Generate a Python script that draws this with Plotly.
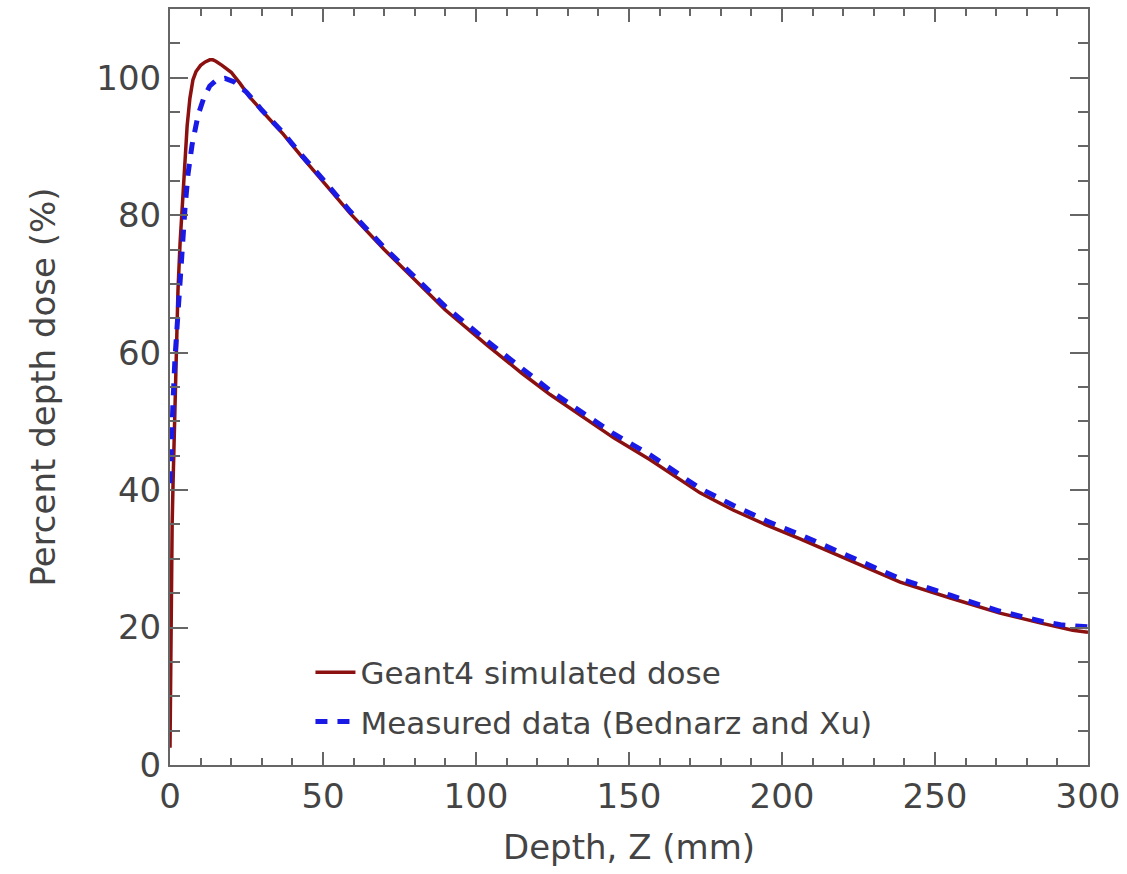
import plotly.graph_objects as go

# Geant4 simulated dose (red solid)
sim_depth = [0, 0.3, 0.7, 1.0, 1.3, 1.6, 2.0, 2.6, 3.3, 4.2, 5.0, 5.6, 6.5, 7.5, 8.5, 10, 11.5, 13, 14, 15,
             17, 20, 23, 26, 30, 37, 42.5, 50, 58.8, 70, 83.3, 90, 103.6, 107.8, 115, 124.2, 135, 145, 156.9,
             173.2, 184, 195, 205.9, 220, 238.6, 255, 271.2, 285, 295, 300]
sim_dose = [2.5, 20, 35, 41, 46, 54, 61, 69, 76, 83, 89, 93, 97, 99.7, 100.9, 101.8, 102.3, 102.6, 102.6, 102.4,
            101.8, 100.8, 99.1, 97.2, 95.2, 91.8, 88.8, 84.9, 80.3, 75.0, 69.1, 66.2, 61.1, 59.6, 57.0, 53.9, 50.6, 47.6, 44.4,
            39.6, 37.1, 34.9, 32.9, 30.2, 26.6, 24.3, 22.1, 20.6, 19.6, 19.3]

# Measured data (Bednarz and Xu) (blue dashed)
meas_depth = [0, 0.3, 1.0, 1.6, 2.3, 3.3, 4.2, 4.9, 5.9, 7.2, 9.2, 11, 13, 15, 18, 21, 25, 30, 37, 42.5,
              50, 58.8, 70, 83.3, 90, 103.6, 110, 124.2, 135, 145, 157, 173, 184, 195, 206, 220, 238.6, 255,
              271, 285, 291, 300]
meas_dose = [41, 46, 53, 59, 64, 72, 77, 81, 86, 90.2, 94.6, 97, 98.8, 99.6, 99.9, 99.4, 97.9, 95.3, 92.0, 89.0,
             85.2, 80.6, 75.3, 69.5, 66.7, 61.7, 59.5, 54.5, 51.2, 48.2, 45.1, 40.3, 37.8, 35.5, 33.5, 30.7, 27.1, 24.7,
             22.4, 20.9, 20.4, 20.1]

x_ticks = [0, 50, 100, 150, 200, 250, 300]
y_ticks = [0, 20, 40, 60, 80, 100]

font_family = "DejaVu Sans, Lato, sans-serif"
text_color = "#444444"
axis_color = "#666666"

fig = go.Figure()
fig.add_trace(go.Scatter(
    x=sim_depth, y=sim_dose, mode="lines", name="Geant4 simulated dose",
    legendgroup="sim",
    line=dict(color="#8b1010", width=3.5),
))
fig.add_trace(go.Scatter(
    x=meas_depth, y=meas_dose, mode="lines", name="Measured data (Bednarz and Xu)",
    legendgroup="meas",
    line=dict(color="#1a1ae6", width=5, dash="12px,10px"),
))

fig.update_layout(
    width=1127, height=874,
    margin=dict(l=170, r=39, t=7, b=109),
    paper_bgcolor="white", plot_bgcolor="white",
    font=dict(family=font_family, color=text_color, size=31),
    showlegend=True,
    legend=dict(
        x=0.153, y=0.158, xanchor="left", yanchor="top",
        bgcolor="rgba(0,0,0,0)", borderwidth=0,
        font=dict(size=31, family=font_family, color=text_color),
        itemwidth=40, tracegroupgap=6,
    ),
)

fig.update_xaxes(
    range=[0, 300], tickvals=x_ticks, ticktext=[str(v) for v in x_ticks],
    showgrid=False, zeroline=False,
    showline=True, linecolor=axis_color, linewidth=2, mirror="ticks",
    ticks="inside", ticklen=13, tickwidth=1.5, tickcolor=axis_color,
    minor=dict(dtick=10, ticks="inside", ticklen=7, tickwidth=1.5, tickcolor=axis_color, showgrid=False),
    tickfont=dict(size=34, family=font_family, color=text_color),
    title=dict(text="Depth, Z (mm)", font=dict(size=34, family=font_family, color=text_color), standoff=20),
)
fig.update_yaxes(
    range=[0, 110], tickvals=y_ticks, ticktext=[str(v) for v in y_ticks],
    showgrid=False, zeroline=False,
    showline=True, linecolor=axis_color, linewidth=2, mirror="ticks",
    ticks="inside", ticklen=18, tickwidth=1.5, tickcolor=axis_color,
    minor=dict(dtick=5, ticks="inside", ticklen=10, tickwidth=1.5, tickcolor=axis_color, showgrid=False),
    tickfont=dict(size=34, family=font_family, color=text_color),
    title=dict(text="Percent depth dose (%)", font=dict(size=34, family=font_family, color=text_color), standoff=30),
)

fig.write_html("out.html")
